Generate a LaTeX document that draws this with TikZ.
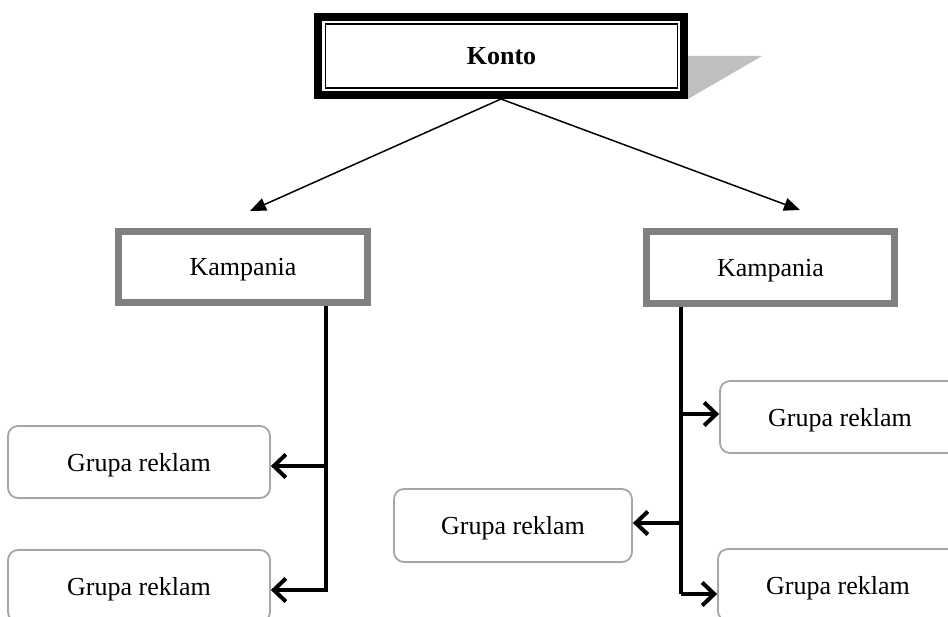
\documentclass[tikz,border=0pt]{standalone}
\usepackage{fontspec}
\setmainfont{Liberation Serif}
\usetikzlibrary{arrows.meta}
\definecolor{kgray}{HTML}{808080}
\definecolor{ggray}{HTML}{A6A6A6}
\definecolor{shgray}{HTML}{C0C0C0}
\begin{document}
\begin{tikzpicture}[x=1pt,y=-1pt,
  lbl/.style={font=\fontsize{26}{30}\selectfont},
  kontoouter/.style={draw=black, line width=8pt, minimum width=366pt, minimum height=78pt, inner sep=0pt},
  kontoinner/.style={draw=black, line width=1.5pt, minimum width=352pt, minimum height=64pt, inner sep=0pt, lbl},
  kamp/.style={draw=kgray, line width=7pt, minimum height=71pt, inner sep=0pt, text depth=0pt, lbl},
  grp/.style={draw=ggray, line width=1.8pt, rounded corners=10pt, minimum height=72pt, inner sep=0pt, text depth=0pt, lbl},
  trunk/.style={line width=4pt},
  branch/.style={line width=4pt, -{Straight Barb[length=12pt,width=23pt]}},
  mainarrow/.style={line width=1.5pt, -{Triangle[length=16pt,width=13pt]}}
]
\useasboundingbox (0,0) rectangle (948,617);
\clip (0,0) rectangle (948,617);

% Konto
\node[kontoouter] (konto) at (501,56) {};
\node[kontoinner] (kontotxt) at (501.5,56) {\bfseries Konto};
\fill[shgray] (konto.east) -- ++(74,0) -- (konto.south east) -- cycle;

% Kampania
\node[kamp, minimum width=249pt] (k1) at (243,267) {Kampania};
\node[kamp, minimum width=248pt, minimum height=72pt] (k2) at (770.5,267.5) {Kampania};

% Grupa reklam
\node[grp, minimum width=262pt] (g1) at (139,462) {Grupa reklam};
\node[grp, minimum width=262pt] (g2) at (139,586) {Grupa reklam};
\node[grp, minimum width=238pt, minimum height=73pt] (gm) at (513,525.5) {Grupa reklam};
\node[grp, minimum width=240pt] (gr1) at (840,417) {Grupa reklam};
\node[grp, minimum width=240pt] (gr2) at (838,585) {Grupa reklam};

% Konto arrows
\coordinate (a1) at (250,211);
\coordinate (a2) at (800,210);
\draw[mainarrow] (konto.south) -- (a1);
\draw[mainarrow] (konto.south) -- (a2);

% left trunk
\coordinate (t1) at (326,592);
\draw[trunk] (k1.south -| t1) -- (t1);
\draw[branch] ([yshift=-4pt]g1.east -| t1) -- ([yshift=-4pt]g1.east);
\draw[branch] ([yshift=-4pt]g2.east -| t1) -- ([yshift=-4pt]g2.east);

% right trunk
\coordinate (t2) at (681,594);
\draw[trunk] (k2.south -| t2) -- (t2);
\draw[branch] (t2) -- (t2 -| gr2.west);
\draw[branch] ([yshift=3pt]gr1.west -| t2) -- ([yshift=3pt]gr1.west);
\draw[branch] ([yshift=2.5pt]gm.east -| t2) -- ([yshift=2.5pt]gm.east);
\end{tikzpicture}
\end{document}
